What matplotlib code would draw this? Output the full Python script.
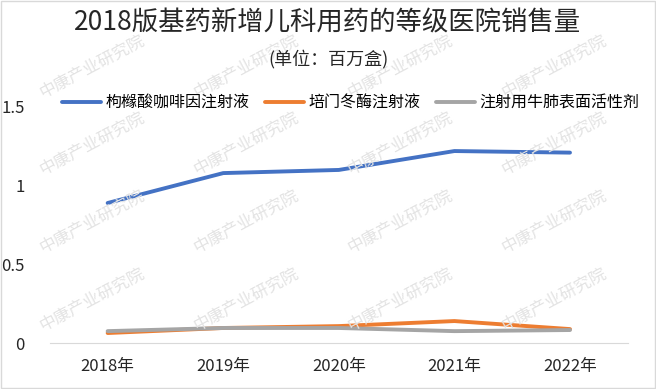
import matplotlib.pyplot as plt
import numpy as np

plt.rcParams['font.family'] = ['Noto Sans CJK SC', 'DejaVu Sans']

years = ["2018年", "2019年", "2020年", "2021年", "2022年"]
series_names = ["枸橼酸咖啡因注射液", "培门冬酶注射液", "注射用牛肺表面活性剂"]
caffeine = [0.89, 1.08, 1.10, 1.22, 1.21]
pegaspargase = [0.064, 0.096, 0.108, 0.14, 0.089]
surfactant = [0.076, 0.096, 0.096, 0.076, 0.083]
yticks = [0, 0.5, 1, 1.5]
ytick_labels = ["0", "0.5", "1", "1.5"]

colors = ["#4472C4", "#ED7D31", "#A5A5A5"]

fig = plt.figure(figsize=(6.56, 3.89), dpi=100)
ax = fig.add_axes([0.076, 0.118, 0.881, 0.607])

# watermark grid
for row in range(4):
    for col in range(4):
        fx = 0.14 + col * 0.235
        fy = 0.83 - row * 0.2
        fig.text(fx, fy, "中康产业研究院", rotation=28, fontsize=12,
                 color="#e3e3e3", ha="center", va="center", zorder=0)

x = np.arange(len(years))
for vals, name, c in zip([caffeine, pegaspargase, surfactant], series_names, colors):
    ax.plot(x, vals, color=c, lw=2.8, solid_capstyle="round", label=name, zorder=3)

ax.set_xlim(-0.5, len(years) - 0.5)
ax.set_ylim(0, 1.5)
ax.set_xticks(x)
ax.set_xticklabels(years, fontsize=12, color="#262626")
ax.set_yticks(yticks)
ax.set_yticklabels(ytick_labels, fontsize=12, color="#262626")
ax.tick_params(length=0)
ax.tick_params(axis="x", pad=11)
ax.tick_params(axis="y", pad=18)
for s in ["top", "right", "left"]:
    ax.spines[s].set_visible(False)
ax.spines["bottom"].set_color("#d9d9d9")
ax.patch.set_alpha(0)

fig.text(0.5, 0.94, "2018版基药新增儿科用药的等级医院销售量", ha="center", va="center",
         fontsize=19, color="#262626")
fig.text(0.5, 0.848, "(单位：百万盒)", ha="center", va="center", fontsize=13, color="#262626")

fig.legend(loc="center", bbox_to_anchor=(0.535, 0.735), ncol=3, frameon=False,
           fontsize=11.5, handlelength=2.4, columnspacing=1.0, handletextpad=0.3)

# figure border
fig.patches.append(plt.Rectangle((0.002, 0.002), 0.996, 0.996, transform=fig.transFigure,
                                 fill=False, edgecolor="#d9d9d9", lw=1))

fig.savefig("out.png", dpi=100)
